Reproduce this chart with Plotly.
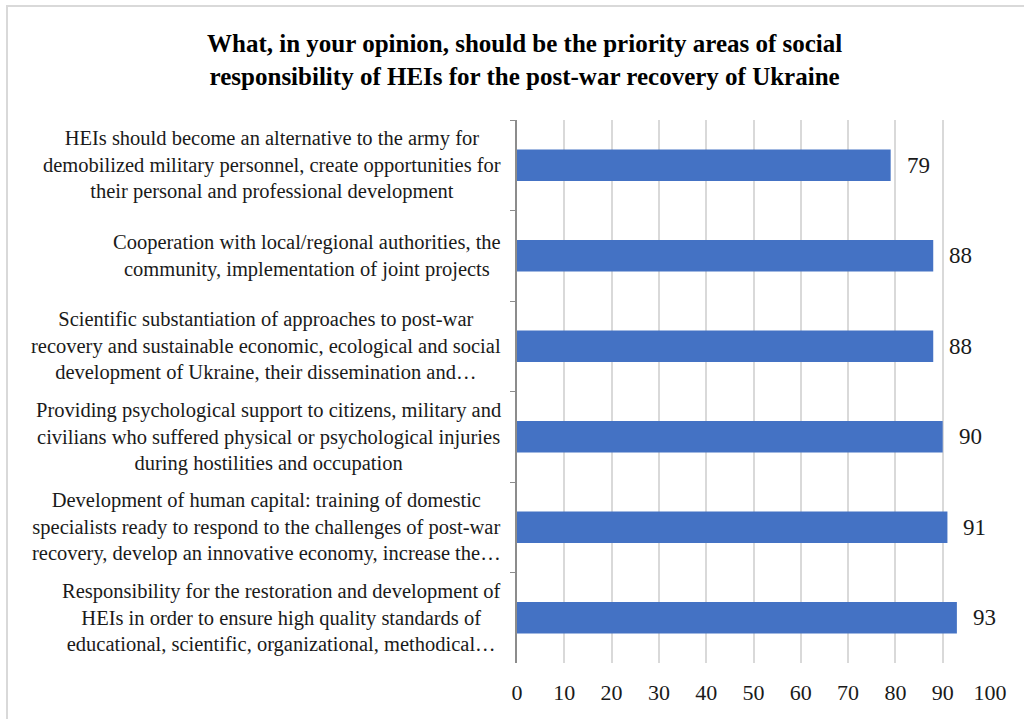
import plotly.graph_objects as go

categories = [
    "HEIs should become an alternative to the army for<br>demobilized military personnel, create opportunities for<br>their personal and professional development",
    "Cooperation with local/regional authorities, the<br>community, implementation of joint projects",
    "Scientific substantiation of approaches to post-war<br>recovery and sustainable economic, ecological and social<br>development of Ukraine, their dissemination and…",
    "Providing psychological support to citizens, military and<br>civilians who suffered physical or psychological injuries<br>during hostilities and occupation",
    "Development of human capital: training of domestic<br>specialists ready to respond to the challenges of post-war<br>recovery, develop an innovative economy, increase the…",
    "Responsibility for the restoration and development of<br>HEIs in order to ensure high quality standards of<br>educational, scientific, organizational, methodical…",
]
values = [79, 88, 88, 90, 91, 93]
x_ticks = [0, 10, 20, 30, 40, 50, 60, 70, 80, 90, 100]

FONT = "'Liberation Serif', 'Times New Roman', 'DejaVu Serif', serif"
TXT = "#1a1a1a"

# plot area in pixels
L, R, T, B = 517, 990, 120, 663
PW, PH = R - L, B - T

fig = go.Figure()
fig.add_trace(go.Bar(
    y=categories, x=values, orientation="h",
    marker=dict(color="#4472C4", line=dict(width=0)),
    hoverinfo="x+y",
))

annotations = []
for c, v in zip(categories, values):
    annotations.append(dict(x=v, y=c, xref="x", yref="y", text=str(v), showarrow=False,
                            xanchor="left", xshift=14, font=dict(family=FONT, size=23, color=TXT)))
    annotations.append(dict(x=0, y=c, xref="paper", yref="y", text=c, showarrow=False,
                            xanchor="right", xshift=-14, align="center",
                            font=dict(family=FONT, size=20.5, color=TXT)))

annotations.append(dict(
    x=(524 - L) / PW, y=(B - 60) / PH, xref="paper", yref="paper",
    text="<b>What, in your opinion, should be the priority areas of social<br>responsibility of HEIs for the post-war recovery of Ukraine</b>",
    showarrow=False, xanchor="center", yanchor="middle", align="center",
    font=dict(family=FONT, size=25, color="#000000"),
))

fig.update_layout(
    width=1024, height=719,
    margin=dict(l=L, r=1024 - R, t=T, b=719 - B),
    paper_bgcolor="white", plot_bgcolor="white",
    bargap=0.65, showlegend=False,
    annotations=annotations,
    xaxis=dict(range=[0, 100], tickvals=x_ticks, showgrid=True, gridcolor="#d9d9d9", gridwidth=2,
               zeroline=False, showline=False, ticks="", ticklabelstandoff=14,
               tickfont=dict(family=FONT, size=22, color=TXT)),
    yaxis=dict(autorange="reversed", showticklabels=False, showline=True, linecolor="#8c8c8c",
               linewidth=1.5, ticks="outside", ticklen=5, tickcolor="#8c8c8c", tickson="boundaries",
               showgrid=False, zeroline=False),
    shapes=[dict(type="rect", xref="paper", yref="paper",
                 x0=(7 - L) / PW, x1=(1040 - L) / PW,
                 y0=(B - 740) / PH, y1=(B - 6) / PH,
                 line=dict(color="#d9d9d9", width=2), fillcolor="rgba(0,0,0,0)", layer="below")],
)

fig.write_html("out.html")
